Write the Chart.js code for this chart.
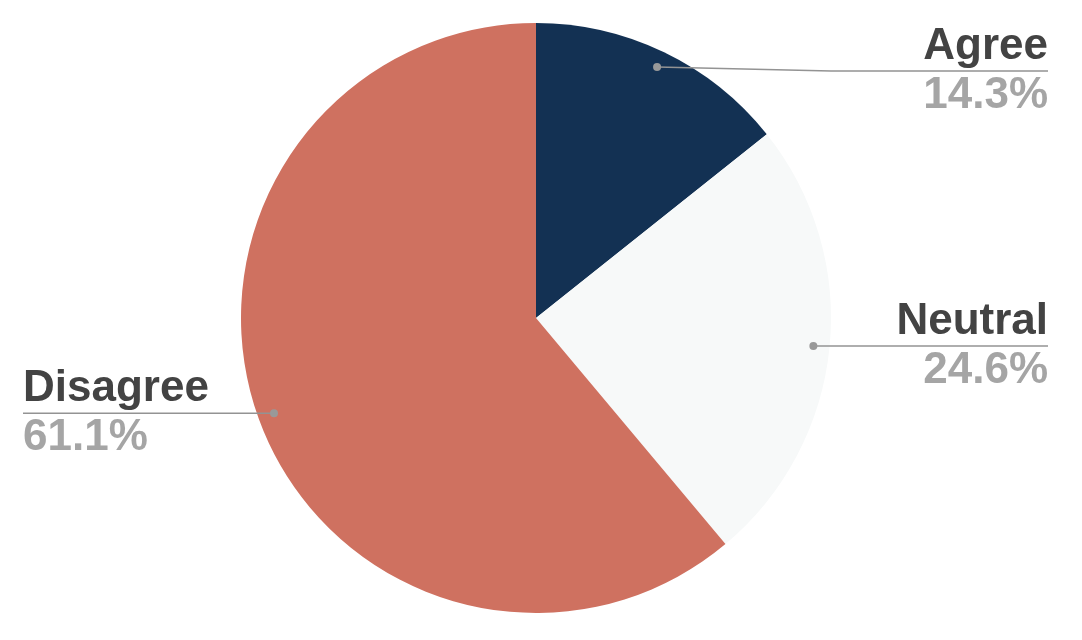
<!DOCTYPE html>
<html>
<head>
<meta charset="utf-8">
<script src="https://cdn.jsdelivr.net/npm/chart.js@4.4.1/dist/chart.umd.min.js"></script>
<style>
  html, body { margin: 0; padding: 0; background: #fff; }
  #wrap { width: 1082px; height: 640px; }
</style>
</head>
<body>
<div id="wrap"><canvas id="pie"></canvas></div>
<script>
const labels = ['Agree', 'Neutral', 'Disagree'];
const values = [14.3, 24.6, 61.1];
const colors = ['#133153', '#f7f9f9', '#cf7160'];

// leader lines + two-line labels (name above line, percent below)
const sideLabels = {
  id: 'sideLabels',
  afterDraw(chart) {
    const ctx = chart.ctx;
    const meta = chart.getDatasetMeta(0);
    const W = chart.width;
    ctx.save();
    meta.data.forEach((arc, i) => {
      const p = arc.getProps(['x', 'y', 'startAngle', 'endAngle', 'outerRadius'], true);
      const mid = (p.startAngle + p.endAngle) / 2;
      const r = p.outerRadius * 0.945;
      const dx = p.x + Math.cos(mid) * r;
      const dy = p.y + Math.sin(mid) * r;
      const right = Math.cos(mid) >= 0;
      const lineY = Math.max(dy, 71);
      const elbowX = right ? p.x + p.outerRadius : p.x - p.outerRadius;
      const endX = right ? W - 34 : 23;

      ctx.strokeStyle = '#939393';
      ctx.lineWidth = 1.5;
      ctx.beginPath();
      ctx.moveTo(dx, dy);
      ctx.lineTo(elbowX, lineY);
      ctx.lineTo(endX, lineY);
      ctx.stroke();

      ctx.fillStyle = '#999999';
      ctx.beginPath();
      ctx.arc(dx, dy, 4, 0, Math.PI * 2);
      ctx.fill();

      ctx.textAlign = right ? 'right' : 'left';
      ctx.textBaseline = 'alphabetic';
      ctx.font = 'bold 44px "Liberation Sans", Arial, sans-serif';
      ctx.fillStyle = '#434343';
      ctx.fillText(labels[i], endX, lineY - 12);
      ctx.fillStyle = '#a5a5a5';
      ctx.fillText(values[i].toFixed(1) + '%', endX, lineY + 37);
    });
    ctx.restore();
  }
};

new Chart(document.getElementById('pie'), {
  type: 'pie',
  data: {
    labels: labels,
    datasets: [{
      data: values,
      backgroundColor: colors,
      borderWidth: 0
    }]
  },
  options: {
    responsive: true,
    maintainAspectRatio: false,
    animation: false,
    layout: { padding: { top: 23, bottom: 27, left: 241, right: 251 } },
    plugins: {
      legend: { display: false },
      tooltip: { enabled: false }
    }
  },
  plugins: [sideLabels]
});
</script>
</body>
</html>
